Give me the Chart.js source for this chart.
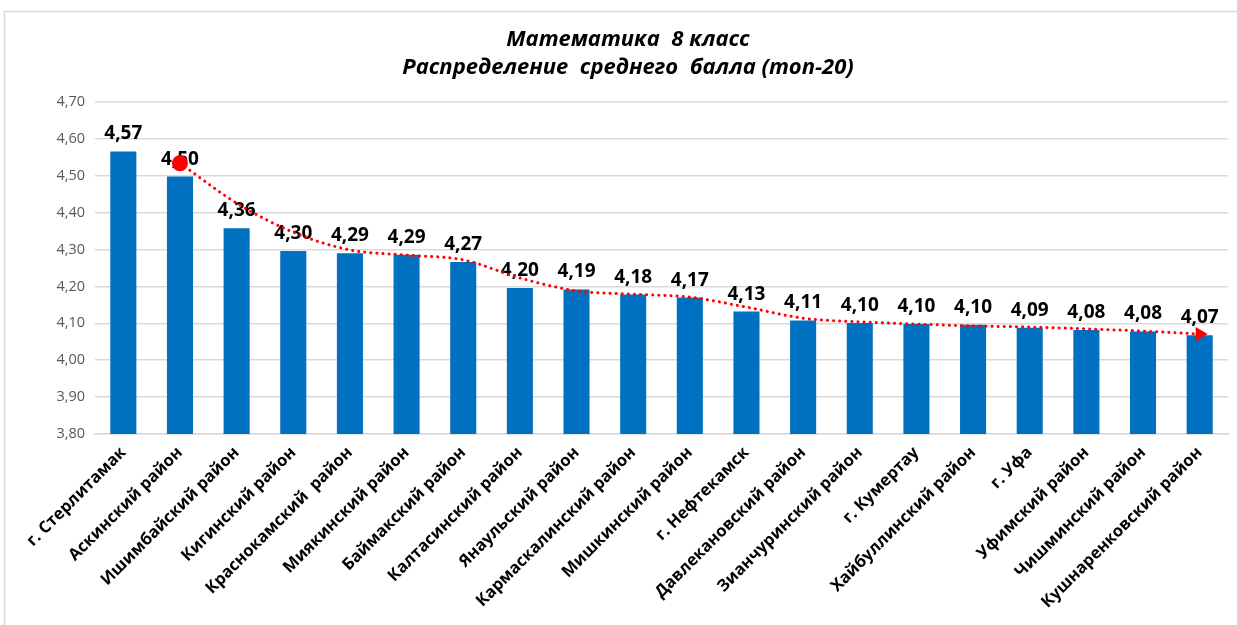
<!DOCTYPE html>
<html>
<head>
<meta charset="utf-8">
<script src="https://cdn.jsdelivr.net/npm/chart.js@4"></script>
<style>
  html, body { margin: 0; padding: 0; background: #ffffff; }
  #wrap { width: 1237px; height: 625px; position: relative; }
</style>
</head>
<body>
<div id="wrap"><canvas id="c" width="1237" height="625"></canvas></div>
<script>
const titleLines = ["Математика  8 класс", "Распределение  среднего  балла (топ-20)"];
const categories = [
  "г. Стерлитамак", "Аскинский район", "Ишимбайский район", "Кигинский район",
  "Краснокамский  район", "Миякинский район", "Баймакский район", "Калтасинский район",
  "Янаульский район", "Кармаскалинский район", "Мишкинский район", "г. Нефтекамск",
  "Давлекановский район", "Зианчуринский район", "г. Кумертау", "Хайбуллинский район",
  "г. Уфа", "Уфимский район", "Чишминский район", "Кушнаренковский район"
];
const values = [
  4.566, 4.498, 4.358, 4.296, 4.290, 4.286, 4.266, 4.196, 4.192, 4.178,
  4.170, 4.132, 4.108, 4.101, 4.098, 4.096, 4.088, 4.082, 4.078, 4.068
];
const trendValues = [
  null, 4.534, 4.426, 4.347, 4.299, 4.285, 4.272, 4.223, 4.188, 4.179,
  4.171, 4.144, 4.114, 4.104, 4.098, 4.093, 4.090, 4.085, 4.079, 4.071
];
const yMin = 3.8, yMax = 4.7, yStep = 0.1;

const fmt = v => v.toFixed(2).replace('.', ',');
const FONT = '"Open Sans", "Noto Sans", sans-serif';

const decorPlugin = {
  id: 'decor',
  beforeDraw(chart) {
    const ctx = chart.ctx;
    ctx.save();
    ctx.fillStyle = '#ffffff';
    ctx.fillRect(0, 0, chart.width, chart.height);
    ctx.strokeStyle = '#d9d9d9';
    ctx.lineWidth = 1.5;
    ctx.beginPath();
    ctx.moveTo(4.5, 625);
    ctx.lineTo(4.5, 11.5);
    ctx.lineTo(1237, 11.5);
    ctx.stroke();
    ctx.fillStyle = '#000000';
    ctx.font = 'italic bold 22px ' + FONT;
    ctx.textAlign = 'center';
    ctx.textBaseline = 'middle';
    ctx.fillText(titleLines[0], 628, 40);
    ctx.fillText(titleLines[1], 628, 68);
    ctx.restore();
  },
  afterDatasetDraw(chart, args) {
    if (args.index !== 0) return;
    const ctx = chart.ctx;
    const meta = chart.getDatasetMeta(0);
    ctx.save();
    ctx.fillStyle = '#000000';
    ctx.font = 'bold 19px ' + FONT;
    ctx.textAlign = 'center';
    ctx.textBaseline = 'alphabetic';
    meta.data.forEach((bar, i) => {
      ctx.fillText(fmt(values[i]), bar.x, bar.y - 12);
    });
    ctx.restore();
  }
};

new Chart(document.getElementById('c'), {
  data: {
    labels: categories,
    datasets: [
      {
        type: 'bar',
        data: values,
        backgroundColor: '#0070C0',
        borderWidth: 0,
        categoryPercentage: 1.0,
        barPercentage: 0.46,
        order: 2
      },
      {
        type: 'line',
        data: trendValues,
        borderColor: '#FF0000',
        backgroundColor: '#FF0000',
        borderWidth: 3,
        borderDash: [0.1, 6],
        borderCapStyle: 'round',
        cubicInterpolationMode: 'monotone',
        spanGaps: true,
        pointStyle: trendValues.map((v, i) => i === 1 ? 'circle' : (i === trendValues.length - 1 ? 'triangle' : false)),
        pointRadius: trendValues.map((v, i) => i === 1 ? 8 : (i === trendValues.length - 1 ? 8 : 0)),
        pointRotation: trendValues.map((v, i) => i === trendValues.length - 1 ? 90 : 0),
        pointBorderWidth: 0,
        order: 1
      }
    ]
  },
  options: {
    responsive: false,
    animation: false,
    devicePixelRatio: 1,
    layout: { padding: { top: 102, right: 9, left: 0, bottom: 0 } },
    plugins: {
      legend: { display: false },
      tooltip: { enabled: false },
      title: { display: false }
    },
    scales: {
      x: {
        grid: { display: false, drawTicks: false },
        border: { display: true, color: '#d9d9d9', width: 1.5 },
        ticks: {
          color: '#000000',
          font: { family: FONT, size: 16.5, weight: 'bold' },
          minRotation: 45,
          maxRotation: 45,
          padding: 9,
          autoSkip: false
        },
        afterFit(scale) { scale.height = 191; }
      },
      y: {
        min: yMin,
        max: yMax,
        grid: { color: '#d9d9d9', lineWidth: 1.5, drawTicks: false },
        border: { display: false },
        ticks: {
          stepSize: yStep,
          color: '#595959',
          font: { family: FONT, size: 14.5 },
          padding: 10,
          callback: v => fmt(v)
        },
        afterFit(scale) { scale.width = 95; }
      }
    }
  },
  plugins: [decorPlugin]
});
</script>
</body>
</html>
